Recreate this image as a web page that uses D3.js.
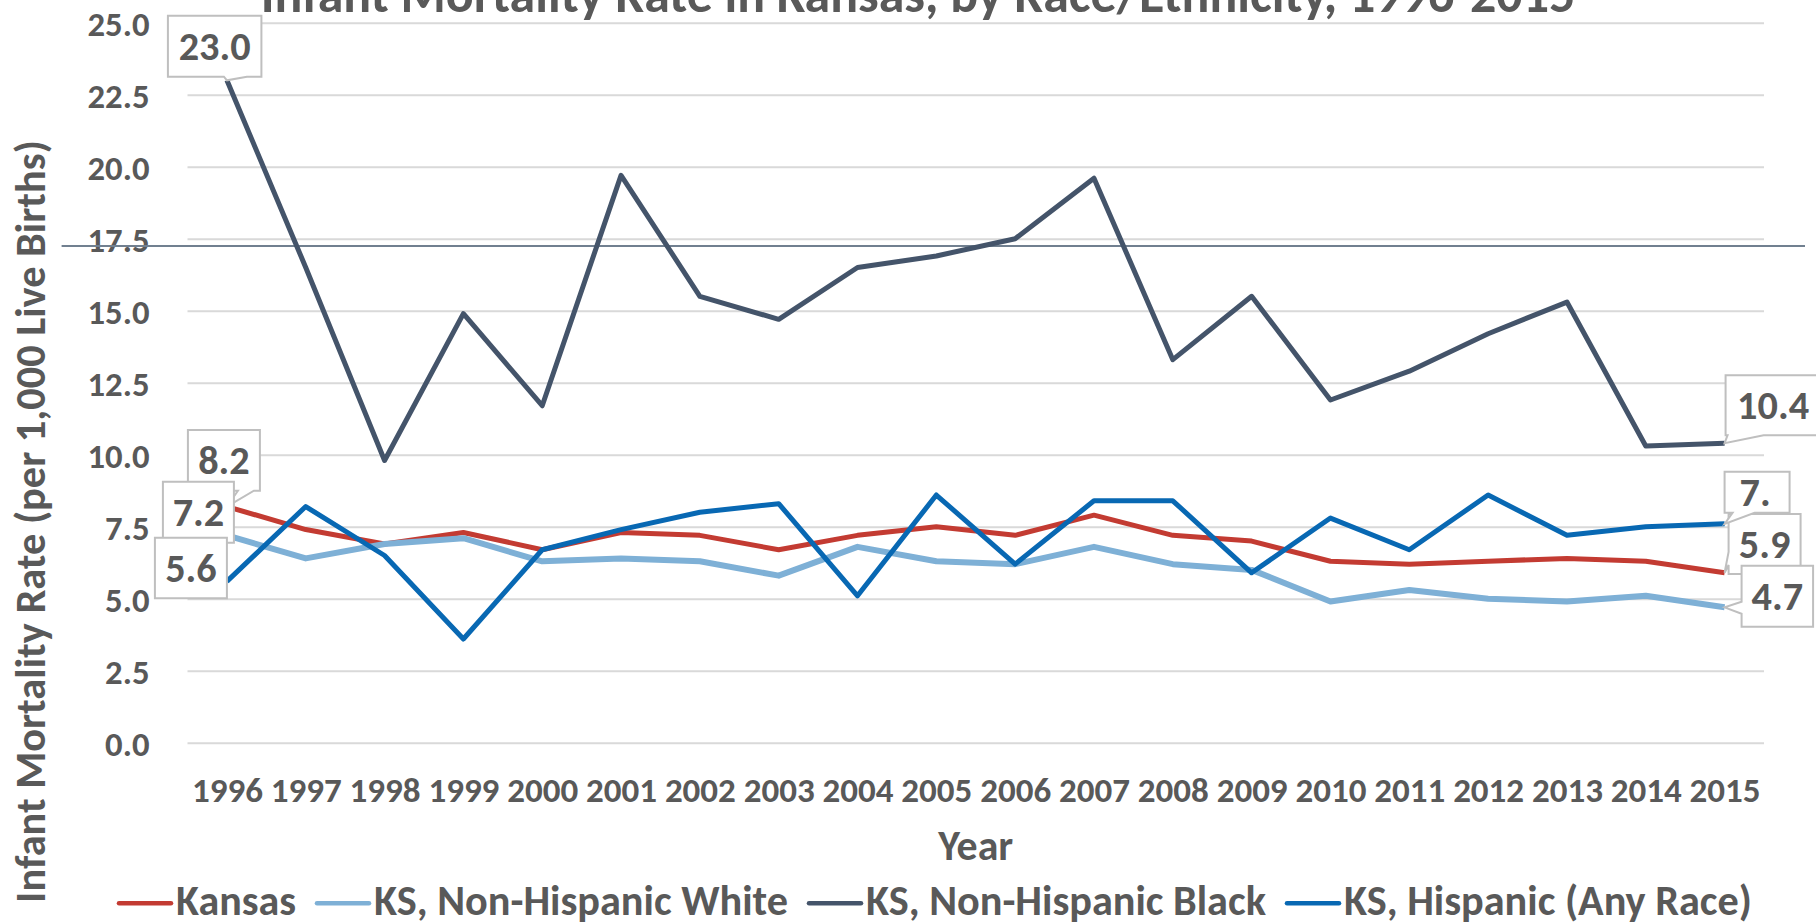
<!DOCTYPE html>
<html>
<head>
<meta charset="utf-8">
<script src="https://cdn.jsdelivr.net/npm/d3@7"></script>
<style>
  body { margin: 0; background: #fff; }
  text { font-family: Carlito, Calibri, Lato, sans-serif; font-weight: bold; fill: #595959; }
</style>
</head>
<body>
<div id="container"></div>
<script>
const w = 1816;
const h = 924;

// data
const years = ["1996", "1997", "1998", "1999", "2000", "2001", "2002", "2003", "2004", "2005",
  "2006", "2007", "2008", "2009", "2010", "2011", "2012", "2013", "2014", "2015"];
const kansas = [8.2, 7.4, 6.9, 7.3, 6.7, 7.3, 7.2, 6.7, 7.2, 7.5, 7.2, 7.9, 7.2, 7.0, 6.3, 6.2, 6.3, 6.4, 6.3, 5.9];
const white = [7.2, 6.4, 6.9, 7.1, 6.3, 6.4, 6.3, 5.8, 6.8, 6.3, 6.2, 6.8, 6.2, 6.0, 4.9, 5.3, 5.0, 4.9, 5.1, 4.7];
const black = [23.0, 16.5, 9.8, 14.9, 11.7, 19.7, 15.5, 14.7, 16.5, 16.9, 17.5, 19.6, 13.3, 15.5, 11.9, 12.9, 14.2, 15.3, 10.3, 10.4];
const hispanic = [5.6, 8.2, 6.5, 3.6, 6.7, 7.4, 8.0, 8.3, 5.1, 8.6, 6.2, 8.4, 8.4, 5.9, 7.8, 6.7, 8.6, 7.2, 7.5, 7.6];
const seriesNames = ["Kansas", "KS, Non-Hispanic White", "KS, Non-Hispanic Black", "KS, Hispanic (Any Race)"];
const yTicks = [0, 2.5, 5, 7.5, 10, 12.5, 15, 17.5, 20, 22.5, 25];

const series = [
  { name: seriesNames[0], values: kansas, color: "#c33b32", width: 5, legendW: 120 },
  { name: seriesNames[1], values: white, color: "#7eb0d6", width: 6, legendW: 414 },
  { name: seriesNames[2], values: black, color: "#44546a", width: 5, legendW: 400 },
  { name: seriesNames[3], values: hispanic, color: "#0868b3", width: 5, legendW: 408 }
];

// callout boxes for first / last points (offsets from the point, px)
const callouts = [
  { s: 0, i: 0, box: [-39, -76.5, 72, 60.7], tail: ["bottom", 50, 66] },
  { s: 1, i: 0, box: [-64, -53.6, 71, 61], tail: null },
  { s: 2, i: 0, box: [-59, -64.6, 93.5, 61], tail: ["bottom", 56, 79] },
  { s: 3, i: 0, box: [-72, -43.7, 72, 60.6], tail: null },
  { s: 0, i: 19, box: [4, -58.8, 72, 60], tail: ["left", 38, 51] },
  { s: 1, i: 19, box: [17, -41.6, 71.5, 61], tail: ["left", 36, 48] },
  { s: 2, i: 19, box: [1, -68, 95, 60], tail: ["bottom", 2, 38] },
  { s: 3, i: 19, box: [0, -52.1, 65, 41], tail: ["bottom", 8, 30], wrap: true }
];

const plot = { left: 187.5, right: 1764, top: 22.7, bottom: 742.7 };

const svg = d3.select("#container").append("svg")
  .attr("width", w).attr("height", h);
svg.append("rect").attr("width", w).attr("height", h).attr("fill", "#fff");

const x = d3.scalePoint().domain(years).range([plot.left, plot.right]).padding(0.5);
const y = d3.scaleLinear().domain([0, 25]).range([plot.bottom, plot.top]);

// font size that makes a text node span the target width
function fitSize(text, target) {
  const len = text.node().getComputedTextLength();
  const size = parseFloat(text.attr("font-size"));
  return size * target / len;
}

// gridlines + y labels
const yAxis = svg.append("g")
  .attr("transform", "translate(" + plot.left + ",0)")
  .call(d3.axisLeft(y).tickValues(yTicks).tickFormat(d3.format(".1f"))
    .tickSize(-(plot.right - plot.left)).tickPadding(38));
yAxis.select(".domain").remove();
yAxis.selectAll(".tick line").attr("stroke", "#d9d9d9").attr("stroke-width", 2);
const yText = yAxis.selectAll(".tick text").attr("font-size", 31).attr("fill", "#595959")
  .attr("font-family", null).attr("dy", "0.36em");
yText.attr("font-size", fitSize(yAxis.select(".tick:last-of-type text"), 62));

// x labels
const xAxis = svg.append("g")
  .attr("transform", "translate(0," + plot.bottom + ")")
  .call(d3.axisBottom(x).tickSize(0));
xAxis.select(".domain").remove();
const xText = xAxis.selectAll(".tick text").attr("font-size", 31.5).attr("fill", "#595959")
  .attr("font-family", null).attr("y", 59).attr("dy", 0);
xText.attr("font-size", fitSize(xAxis.select(".tick text"), 71));

// stray divider line across the chart
svg.append("line")
  .attr("x1", 61.6).attr("x2", 1805).attr("y1", 246).attr("y2", 246)
  .attr("stroke", "#718090").attr("stroke-width", 2);

// lines
const line = d3.line().x((d, i) => x(years[i])).y(d => y(d));
svg.selectAll(".series").data(series).enter().append("path")
  .attr("class", "series")
  .attr("d", d => line(d.values))
  .attr("fill", "none")
  .attr("stroke", d => d.color)
  .attr("stroke-width", d => d.width)
  .attr("stroke-linejoin", "round");

// label size: "23.0" is about 73px wide in the reference
const probe = svg.append("text").attr("font-size", 37).text(black[0].toFixed(1));
const labelSize = fitSize(probe, 72);
probe.remove();

// callouts
const defs = svg.append("defs");
callouts.forEach((c, k) => {
  const v = series[c.s].values[c.i];
  const px = x(years[c.i]), py = y(v);
  const l = px + c.box[0], t = py + c.box[1], r = l + c.box[2], b = t + c.box[3];
  let p;
  if (!c.tail) {
    p = `M${l},${t}H${r}V${b}H${l}Z`;
  } else if (c.tail[0] === "bottom") {
    p = `M${l},${t}H${r}V${b}H${l + c.tail[2]}L${px},${py}L${l + c.tail[1]},${b}H${l}Z`;
  } else {
    p = `M${l},${t}H${r}V${b}H${l}V${t + c.tail[2]}L${px},${py}L${l},${t + c.tail[1]}Z`;
  }
  const g = svg.append("g");
  g.append("path").attr("d", p).attr("fill", "#fff")
    .attr("stroke", "#bfbfbf").attr("stroke-width", 2);
  const label = g.append("text").attr("font-size", labelSize);
  const txt = v.toFixed(1);
  if (c.wrap) {
    // label too wide for its box: wraps, second line clipped away
    defs.append("clipPath").attr("id", "clip" + k)
      .append("rect").attr("x", l).attr("y", t).attr("width", c.box[2]).attr("height", c.box[3]);
    label.attr("clip-path", "url(#clip" + k + ")");
    label.append("tspan").attr("x", l + 15).attr("y", t + 34.3).text(txt.slice(0, 2));
    label.append("tspan").attr("x", l + 15).attr("dy", "1.2em").text(txt.slice(2));
  } else {
    label.attr("x", (l + r) / 2).attr("y", t + 44.3).attr("text-anchor", "middle").text(txt);
  }
});

// title (cut off at the top)
const title = svg.append("text")
  .attr("x", 918).attr("y", 12).attr("text-anchor", "middle")
  .attr("font-size", 40)
  .text("Infant Mortality Rate in Kansas, by Race/Ethnicity, 1996-2015");
title.attr("font-size", fitSize(title, 1315));

// axis titles
const xTitle = svg.append("text")
  .attr("x", 975.7).attr("y", 860).attr("text-anchor", "middle")
  .attr("font-size", 35).text("Year");
xTitle.attr("font-size", fitSize(xTitle, 75));

const yTitle = svg.append("text")
  .attr("transform", "translate(44.6,521.5) rotate(-90)")
  .attr("text-anchor", "middle")
  .attr("font-size", 34).text("Infant Mortality Rate (per 1,000 Live Births)");
yTitle.attr("font-size", fitSize(yTitle, 763));

// legend
let lx = 117;
series.forEach(s => {
  svg.append("line")
    .attr("x1", lx + 2).attr("x2", lx + 54).attr("y1", 903.3).attr("y2", 903.3)
    .attr("stroke", s.color).attr("stroke-width", 4.5).attr("stroke-linecap", "round");
  const t = svg.append("text")
    .attr("x", lx + 59).attr("y", 915)
    .attr("font-size", 38).text(s.name);
  t.attr("font-size", fitSize(t, s.legendW));
  lx += 59 + s.legendW + 19;
});
</script>
</body>
</html>
